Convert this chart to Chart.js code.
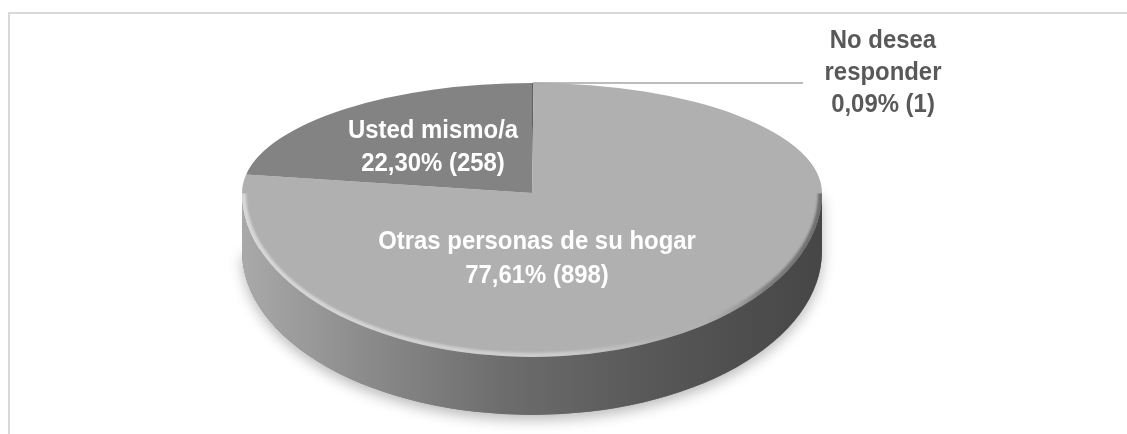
<!doctype html>
<html lang="es">
<head>
  <meta charset="utf-8">
  <title>Pie 3D</title>
  <script src="https://cdn.jsdelivr.net/npm/chart.js@4.4.0/dist/chart.umd.min.js"></script>
  <style>
    html, body { margin: 0; padding: 0; background: #fff; overflow: hidden; }
    #chart { display: block; }
  </style>
</head>
<body>
  <canvas id="chart" width="1127" height="434"></canvas>
  <script>
    const categories = ['No desea responder', 'Otras personas de su hogar', 'Usted mismo/a'];
    const counts = [1, 898, 258];
    const labelLines = [['No desea', 'responder'], ['Otras personas de su hogar'], ['Usted mismo/a']];
    const sliceColors = ['#5f5f5f', '#b0b0b0', '#838383'];

    const total = counts.reduce((a, b) => a + b, 0);
    const pct = counts.map(v => (v / total * 100).toFixed(2).replace('.', ','));

    // where the tilted disc sits on the page (back half is flatter than the front)
    const disc = { x: 532, y: 193, rx: 290, ryBack: 110, ryFront: 164, depth: 58 };
    const FONT = 'bold 26px "Liberation Sans", Arial, sans-serif';
    const TEXT_SQUEEZE = 0.92; // the original uses a narrow face
    const labelAt = [
      { x: 883, y: 48, gap: 32, color: '#595959' },
      { x: 537, y: 249, gap: 34, color: '#ffffff' },
      { x: 433, y: 138, gap: 33, color: '#ffffff' }
    ];

    function shade(hex, f) {
      const c = [1, 3, 5].map(i => Math.round(parseInt(hex.slice(i, i + 2), 16) * f));
      return 'rgb(' + c.join(',') + ')';
    }

    function toDisc(ctx, arc, ry) {
      const s = arc.outerRadius;
      ctx.translate(disc.x, disc.y);
      ctx.scale(disc.rx / s, ry / s);
      ctx.translate(-arc.x, -arc.y);
    }

    function rimPoint(a) {
      const ry = Math.sin(a) >= 0 ? disc.ryFront : disc.ryBack;
      return [disc.x + disc.rx * Math.cos(a), disc.y + ry * Math.sin(a)];
    }

    function drawFrame(ctx, w, h) {
      ctx.save();
      ctx.strokeStyle = '#d9d9d9';
      ctx.lineWidth = 2;
      ctx.beginPath();
      ctx.moveTo(9, h);
      ctx.lineTo(9, 13);
      ctx.lineTo(w, 13);
      ctx.stroke();
      ctx.restore();
    }

    function drawSide(ctx, meta) {
      // soft shadow under the disc
      ctx.save();
      ctx.shadowColor = 'rgba(0,0,0,0.28)';
      ctx.shadowBlur = 14;
      ctx.shadowOffsetY = 5;
      ctx.beginPath();
      ctx.ellipse(disc.x, disc.y + disc.depth, disc.rx, disc.ryFront, 0, 0, Math.PI);
      ctx.lineTo(disc.x + disc.rx, disc.y);
      ctx.closePath();
      ctx.fillStyle = '#777';
      ctx.fill();
      ctx.restore();

      meta.data.forEach((arc, i) => {
        [0, 2 * Math.PI].forEach(off => {
          const a0 = Math.max(arc.startAngle, off);
          const a1 = Math.min(arc.endAngle, off + Math.PI);
          if (a1 <= a0) return;
          const col = sliceColors[i];
          const g = ctx.createLinearGradient(disc.x - disc.rx, 0, disc.x + disc.rx, 0);
          g.addColorStop(0, shade(col, 0.96));
          g.addColorStop(0.2, shade(col, 0.8));
          g.addColorStop(0.45, shade(col, 0.62));
          g.addColorStop(0.7, shade(col, 0.5));
          g.addColorStop(1, shade(col, 0.4));
          ctx.beginPath();
          ctx.ellipse(disc.x, disc.y, disc.rx, disc.ryFront, 0, a0 - off, a1 - off);
          ctx.ellipse(disc.x, disc.y + disc.depth, disc.rx, disc.ryFront, 0, a1 - off, a0 - off, true);
          ctx.closePath();
          ctx.fillStyle = g;
          ctx.fill();
        });
      });
    }

    function drawRim(ctx) {
      ctx.save();
      ctx.beginPath();
      ctx.ellipse(disc.x, disc.y, disc.rx, disc.ryFront, 0, 0, Math.PI);
      ctx.closePath();
      ctx.clip();
      const g = ctx.createLinearGradient(disc.x - disc.rx, 0, disc.x + disc.rx, 0);
      g.addColorStop(0, 'rgba(255,255,255,0.5)');
      g.addColorStop(0.55, 'rgba(255,255,255,0.35)');
      g.addColorStop(0.75, 'rgba(255,255,255,0)');
      g.addColorStop(0.9, 'rgba(0,0,0,0.28)');
      g.addColorStop(1, 'rgba(0,0,0,0.38)');
      ctx.filter = 'blur(1px)';
      ctx.beginPath();
      ctx.ellipse(disc.x, disc.y, disc.rx, disc.ryFront, 0, 0, Math.PI);
      ctx.lineWidth = 8;
      ctx.strokeStyle = g;
      ctx.stroke();
      ctx.restore();
    }

    function drawLabels(ctx, meta) {
      ctx.save();
      ctx.font = FONT;
      ctx.textAlign = 'center';
      ctx.textBaseline = 'alphabetic';
      meta.data.forEach((arc, i) => {
        const pos = labelAt[i];
        const lines = labelLines[i].concat([pct[i] + '% (' + counts[i] + ')']);
        ctx.fillStyle = pos.color;
        lines.forEach((t, k) => {
          ctx.save();
          ctx.translate(pos.x, pos.y + k * pos.gap);
          ctx.scale(TEXT_SQUEEZE, 1);
          ctx.fillText(t, 0, 0);
          ctx.restore();
        });
      });
      // leader line for the tiny slice
      const a = meta.data[0];
      const p = rimPoint((a.startAngle + a.endAngle) / 2);
      ctx.strokeStyle = '#a6a6a6';
      ctx.lineWidth = 1.5;
      ctx.beginPath();
      ctx.moveTo(p[0], p[1]);
      ctx.lineTo(labelAt[0].x - 80, p[1]);
      ctx.stroke();
      ctx.restore();
    }

    const disc3d = {
      id: 'disc3d',
      beforeDraw(chart) {
        drawFrame(chart.ctx, chart.width, chart.height);
      },
      beforeDatasetsDraw(chart) {
        const ctx = chart.ctx;
        const meta = chart.getDatasetMeta(0);
        drawSide(ctx, meta);
        // back half of the top face, drawn by chart.js itself
        ctx.save();
        ctx.beginPath();
        ctx.rect(0, 0, chart.width, disc.y + 0.5);
        ctx.clip();
        toDisc(ctx, meta.data[0], disc.ryBack);
      },
      afterDatasetsDraw(chart) {
        const ctx = chart.ctx;
        const meta = chart.getDatasetMeta(0);
        ctx.restore();
        // front half of the top face
        ctx.save();
        ctx.beginPath();
        ctx.rect(0, disc.y, chart.width, chart.height - disc.y);
        ctx.clip();
        toDisc(ctx, meta.data[0], disc.ryFront);
        meta.data.forEach(arc => arc.draw(ctx));
        ctx.restore();
        drawRim(ctx);
        drawLabels(ctx, meta);
      }
    };

    new Chart(document.getElementById('chart'), {
      type: 'pie',
      data: {
        labels: categories,
        datasets: [{
          data: counts,
          backgroundColor: sliceColors,
          borderWidth: 0
        }]
      },
      options: {
        responsive: false,
        animation: false,
        events: [],
        plugins: {
          legend: { display: false },
          tooltip: { enabled: false }
        }
      },
      plugins: [disc3d]
    });
  </script>
</body>
</html>
